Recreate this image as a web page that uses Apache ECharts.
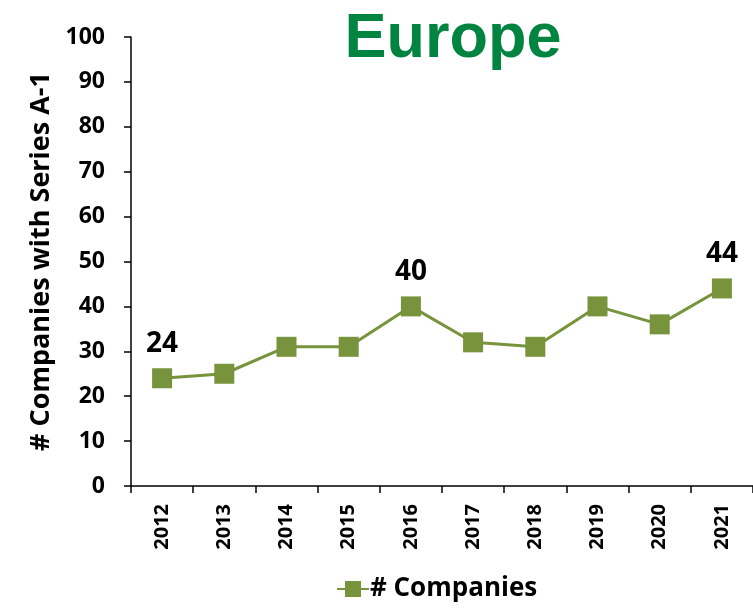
<!DOCTYPE html>
<html>
<head>
<meta charset="utf-8">
<script src="https://cdn.jsdelivr.net/npm/echarts@6/dist/echarts.min.js"></script>
<style>
  html, body { margin: 0; padding: 0; background: #ffffff; }
  #chart { width: 753px; height: 608px; }
</style>
</head>
<body>
<div id="chart"></div>
<script>
// Yearly counts of European companies with a Series A-1 round
const years = ['2012', '2013', '2014', '2015', '2016', '2017', '2018', '2019', '2020', '2021'];
const companies = [24, 25, 31, 31, 40, 32, 31, 40, 36, 44];
// Years whose value is printed above the marker
const labeledYears = ['2012', '2016', '2021'];
const yTicks = { min: 0, max: 100, step: 10 };

const chart = echarts.init(document.getElementById('chart'));
const baseFont = '"Open Sans", "Noto Sans", sans-serif';

chart.setOption({
  animation: false,
  backgroundColor: '#ffffff',
  title: {
    text: 'Europe',
    left: 448,
    textAlign: 'center',
    top: 3,
    textStyle: {
      fontFamily: '"Liberation Sans", Arial, sans-serif',
      fontWeight: 'bold',
      fontSize: 63,
      color: '#00843f'
    }
  },
  legend: {
    top: 571,
    left: 331,
    itemWidth: 32,
    itemHeight: 20,
    itemGap: 0,
    textStyle: {
      fontFamily: baseFont,
      fontWeight: 'bold',
      fontSize: 26,
      color: '#000000',
      padding: [0, 0, 0, -4]
    },
    data: ['# Companies']
  },
  grid: { left: 131, right: 0, top: 37, bottom: 122 },
  xAxis: {
    type: 'category',
    data: years,
    boundaryGap: true,
    axisLine: { lineStyle: { color: '#000000', width: 1.5 } },
    axisTick: { show: true, alignWithLabel: false, length: 7, lineStyle: { color: '#000000', width: 1.5 } },
    axisLabel: {
      rotate: 90,
      margin: 18,
      fontFamily: baseFont,
      fontWeight: 'bold',
      fontSize: 20,
      color: '#000000'
    },
    splitLine: { show: false }
  },
  yAxis: {
    type: 'value',
    min: yTicks.min,
    max: yTicks.max,
    interval: yTicks.step,
    name: '# Companies with Series A-1',
    nameLocation: 'middle',
    nameGap: 72,
    nameTextStyle: {
      fontFamily: baseFont,
      fontWeight: 'bold',
      fontSize: 27,
      color: '#000000'
    },
    axisLine: { show: true, lineStyle: { color: '#000000', width: 1.5 } },
    axisTick: { show: true, length: 7, lineStyle: { color: '#000000', width: 1.5 } },
    axisLabel: {
      margin: 26,
      fontFamily: baseFont,
      fontWeight: 'bold',
      fontSize: 23,
      color: '#000000'
    },
    splitLine: { show: false }
  },
  series: [{
    name: '# Companies',
    type: 'line',
    data: companies.map((v, i) => ({
      value: v,
      label: { show: labeledYears.includes(years[i]) }
    })),
    symbol: 'rect',
    symbolSize: 20,
    itemStyle: { color: '#77933c' },
    lineStyle: { color: '#77933c', width: 3 },
    label: {
      position: 'top',
      distance: 10,
      fontFamily: baseFont,
      fontWeight: 'bold',
      fontSize: 28,
      color: '#000000'
    }
  }]
});
</script>
</body>
</html>
